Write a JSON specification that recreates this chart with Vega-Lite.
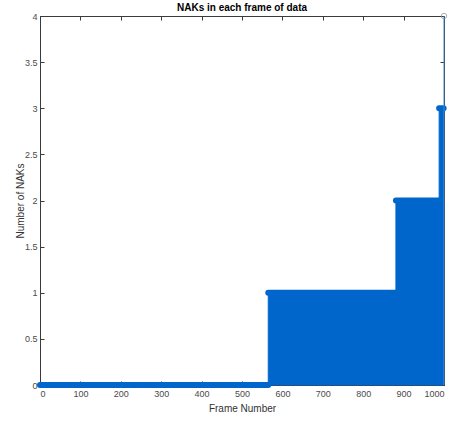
{
  "$schema": "https://vega.github.io/schema/vega-lite/v6.json",
  "autosize": "none",
  "width": 404,
  "height": 369,
  "padding": {"left": 40, "top": 16, "right": 16, "bottom": 38},
  "background": "white",
  "title": {"text": "NAKs in each frame of data", "font": "Liberation Sans", "fontSize": 10, "fontWeight": "bold", "color": "#000000", "offset": -2},
  "config": {
    "view": {"stroke": "#3a3a3a", "strokeWidth": 1},
    "axis": {
      "labelFont": "Liberation Sans", "labelFontSize": 9, "labelColor": "#4a4a4a",
      "titleFont": "Liberation Sans", "titleFontSize": 10, "titleFontWeight": "normal", "titleColor": "#333333",
      "domainColor": "#3a3a3a", "tickColor": "#3a3a3a", "tickSize": -4, "grid": false, "format": "~r"
    }
  },
  "datasets": {
    "segments": [
      {"start": 0, "end": 565, "naks": 0},
      {"start": 565, "end": 881, "naks": 1},
      {"start": 881, "end": 988, "naks": 2},
      {"start": 988, "end": 999, "naks": 3}
    ],
    "last": [
      {"frame": 1000, "naks": 4}
    ]
  },
  "resolve": {"scale": {"x": "independent", "y": "independent"}},
  "layer": [
    {
      "data": {"name": "segments"},
      "mark": {"type": "rect", "color": "#0066cc", "stroke": "#0066cc", "strokeWidth": 1},
      "encoding": {
        "x": {"field": "start", "type": "quantitative", "scale": {"domain": [0, 1000], "nice": false, "zero": false},
              "axis": {"title": "Frame Number", "values": [0,100,200,300,400,500,600,700,800,900,1000], "labelPadding": 8, "titlePadding": 5}},
        "x2": {"field": "end"},
        "y": {"field": "naks", "type": "quantitative", "scale": {"domain": [0, 4], "nice": false},
              "axis": {"title": "Number of NAKs", "values": [0,0.5,1,1.5,2,2.5,3,3.5,4], "labelPadding": 7, "titleX": -15}},
        "y2": {"datum": 0}
      }
    },
    {
      "data": {"name": "segments"},
      "mark": {"type": "rule", "color": "#0066cc", "strokeWidth": 6, "strokeCap": "round"},
      "encoding": {
        "x": {"field": "start", "type": "quantitative", "scale": {"domain": [0, 1000], "nice": false, "zero": false}, "axis": null},
        "x2": {"field": "end"},
        "y": {"field": "naks", "type": "quantitative", "scale": {"domain": [0, 4], "nice": false}, "axis": null}
      }
    },
    {
      "data": {"name": "last"},
      "mark": {"type": "rule", "color": "#3f86d0", "strokeWidth": 1},
      "encoding": {
        "x": {"field": "frame", "type": "quantitative", "scale": {"domain": [0, 1000], "nice": false, "zero": false}, "axis": null},
        "y": {"field": "naks", "type": "quantitative", "scale": {"domain": [0, 4], "nice": false}, "axis": null},
        "y2": {"datum": 0}
      }
    },
    {
      "data": {"name": "last"},
      "mark": {"type": "point", "shape": "circle", "filled": false, "color": "#7f8fa0", "size": 30, "strokeWidth": 1},
      "encoding": {
        "x": {"field": "frame", "type": "quantitative", "scale": {"domain": [0, 1000], "nice": false, "zero": false},
              "axis": {"orient": "top", "labels": false, "title": null, "ticks": true, "tickSize": -4, "values": [0,100,200,300,400,500,600,700,800,900,1000]}},
        "y": {"field": "naks", "type": "quantitative", "scale": {"domain": [0, 4], "nice": false},
              "axis": {"orient": "right", "labels": false, "title": null, "ticks": true, "tickSize": -4, "values": [0,0.5,1,1.5,2,2.5,3,3.5,4]}}
      }
    }
  ]
}
